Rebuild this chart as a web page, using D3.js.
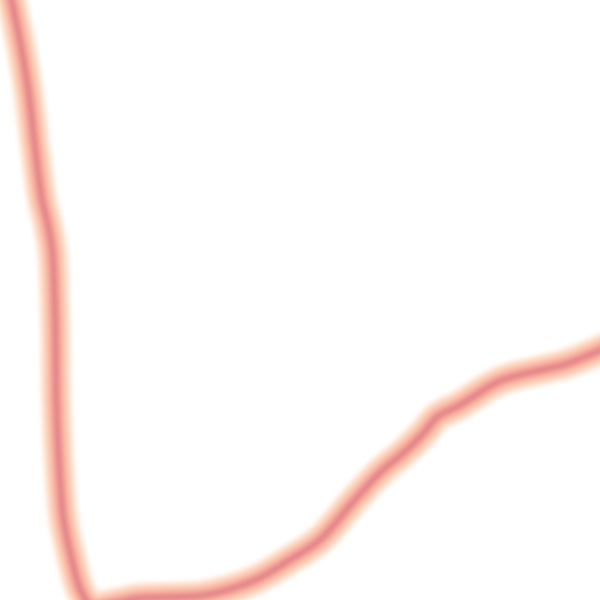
<!DOCTYPE html>
<html>
<head>
<meta charset="utf-8">
<script src="https://cdn.jsdelivr.net/npm/d3@7/dist/d3.min.js"></script>
<style>
html,body{margin:0;padding:0;background:#fff;}
svg{display:block;}
</style>
</head>
<body>
<script>
// Data (x and y in a 0–100 data domain)
const xValues = [1.7, 3.3, 4.7, 5.8, 7.0, 8.0, 8.7, 9.2, 9.4, 9.9, 10.6, 11.8, 13.4, 15.3, 19.2, 23.3, 33.3, 38.3, 43.3, 48.3, 53.3, 58.8, 63.3, 67.2, 70.3, 73.0, 76.5, 83.3, 90.0, 94.2, 100.8];
const yValues = [101, 93.3, 85, 75.8, 66.7, 62.5, 58.3, 46.7, 33.3, 21.7, 13.3, 7.5, 1.7, -1, -0.5, 0.3, 0.7, 1.8, 3.7, 6.7, 10, 16.3, 21.2, 24.5, 27.5, 30.6, 32.4, 36.5, 38.3, 39.3, 42];
const points = xValues.map((x, i) => ({x, y: yValues[i]}));

const W = 600, H = 600;
const x = d3.scaleLinear().domain([0, 100]).range([0, W]);
const y = d3.scaleLinear().domain([0, 100]).range([H, 0]);

const svg = d3.select("body").append("svg").attr("width", W).attr("height", H);
const defs = svg.append("defs");
defs.append("filter").attr("id", "soft").attr("x", "-10%").attr("y", "-10%").attr("width", "120%").attr("height", "120%")
  .append("feGaussianBlur").attr("stdDeviation", 2);

const line = d3.line().x(d => x(d.x)).y(d => y(d.y)).curve(d3.curveCatmullRom.alpha(0.5));

const layers = [
  {w: 31, c: "#fee5d4"},
  {w: 24, c: "#fdcfb8"},
  {w: 16, c: "#f9b29f"},
  {w: 9,  c: "#f19a93"},
  {w: 4,  c: "#e07e88"}
];
const g = svg.append("g").attr("filter", "url(#soft)");
g.selectAll("path").data(layers).join("path")
  .attr("d", line(points))
  .attr("fill", "none")
  .attr("stroke", d => d.c)
  .attr("stroke-width", d => d.w)
  .attr("stroke-linecap", "round")
  .attr("stroke-linejoin", "round");
</script>
</body>
</html>
